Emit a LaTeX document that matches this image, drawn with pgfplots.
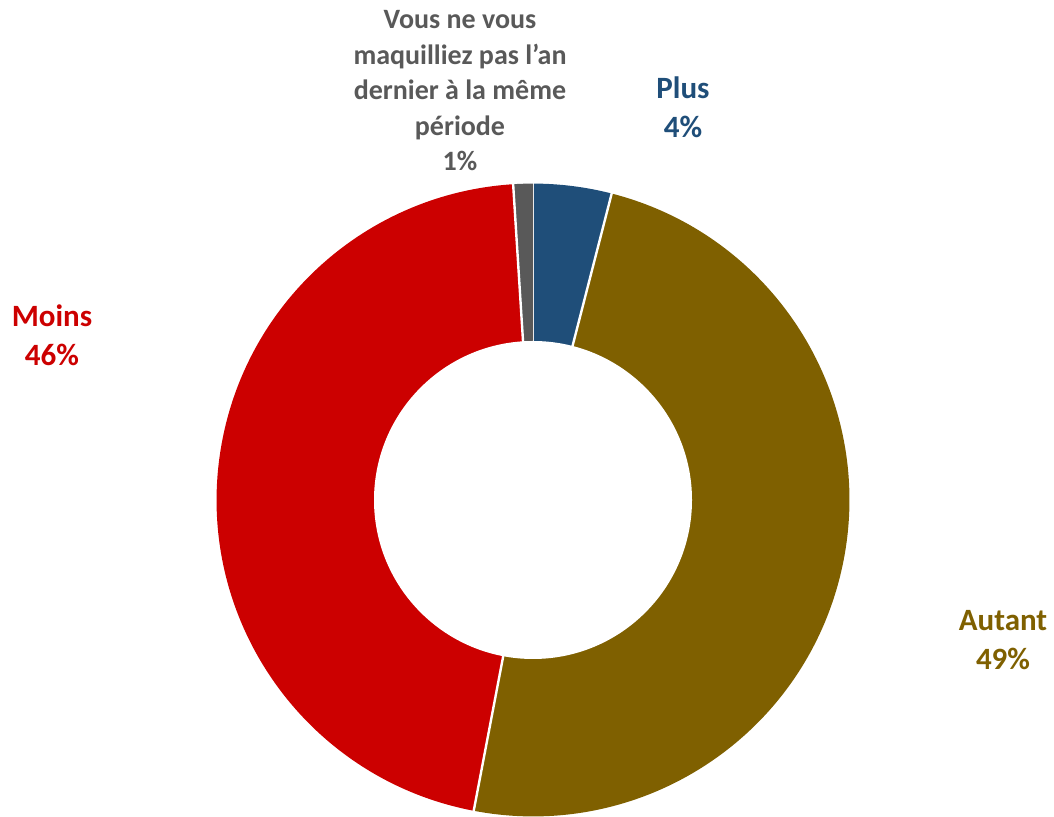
\documentclass[border=0pt]{standalone}
\usepackage{pgfplots}
\usepackage{pgfplotstable}
\pgfplotsset{compat=1.18}
\usepackage{fontspec}
\setmainfont{Carlito}

\definecolor{plusc}{HTML}{1F4E79}
\definecolor{autantc}{HTML}{7F6000}
\definecolor{moinsc}{HTML}{CC0000}
\definecolor{vousc}{HTML}{595959}

% share of answers, clockwise from the top
\pgfplotstableread{
value color
4  plusc
49 autantc
46 moinsc
1  vousc
}\slices

\begin{document}
\begin{tikzpicture}
\begin{axis}[
  scale only axis,
  width=527pt, height=408.5pt,
  xmin=0, xmax=1054, ymin=0, ymax=817,
  hide axis, clip=false,
]
\pgfplotsextra{
  \gdef\ang{90}
  \foreach \i in {0,...,3}{
    \pgfplotstablegetelem{\i}{value}\of\slices \let\v\pgfplotsretval
    \pgfplotstablegetelem{\i}{color}\of\slices \let\c\pgfplotsretval
    \pgfmathsetmacro\angb{\ang-3.6*\v}
    \fill[\c] (axis cs:533,317) -- ++(\ang:158.2pt)
      arc[start angle=\ang, end angle=\angb, radius=158.2pt] -- cycle;
    \draw[white, line width=1.2pt] (axis cs:533,317) -- ++(\ang:159pt);
    \global\let\ang\angb
  }
  \fill[white] (axis cs:533,317) circle[radius=79.5pt];
}
\node[align=center, text=vousc, font=\fontsize{14}{17.75}\selectfont\bfseries]
  at (axis cs:460,726) {Vous ne vous\\maquilliez pas l’an\\dernier à la même\\période\\1\%};
\node[align=center, text=plusc, font=\fontsize{15.5}{19.5}\selectfont\bfseries]
  at (axis cs:683,710) {Plus\\4\%};
\node[align=center, text=moinsc, font=\fontsize{15.5}{19.5}\selectfont\bfseries]
  at (axis cs:52,482) {Moins\\46\%};
\node[align=center, text=autantc, font=\fontsize{15.5}{19.5}\selectfont\bfseries]
  at (axis cs:1003,177) {Autant\\49\%};
\end{axis}
\pgfresetboundingbox
\path (0,0) rectangle (527pt,408.5pt);
\end{tikzpicture}
\end{document}
